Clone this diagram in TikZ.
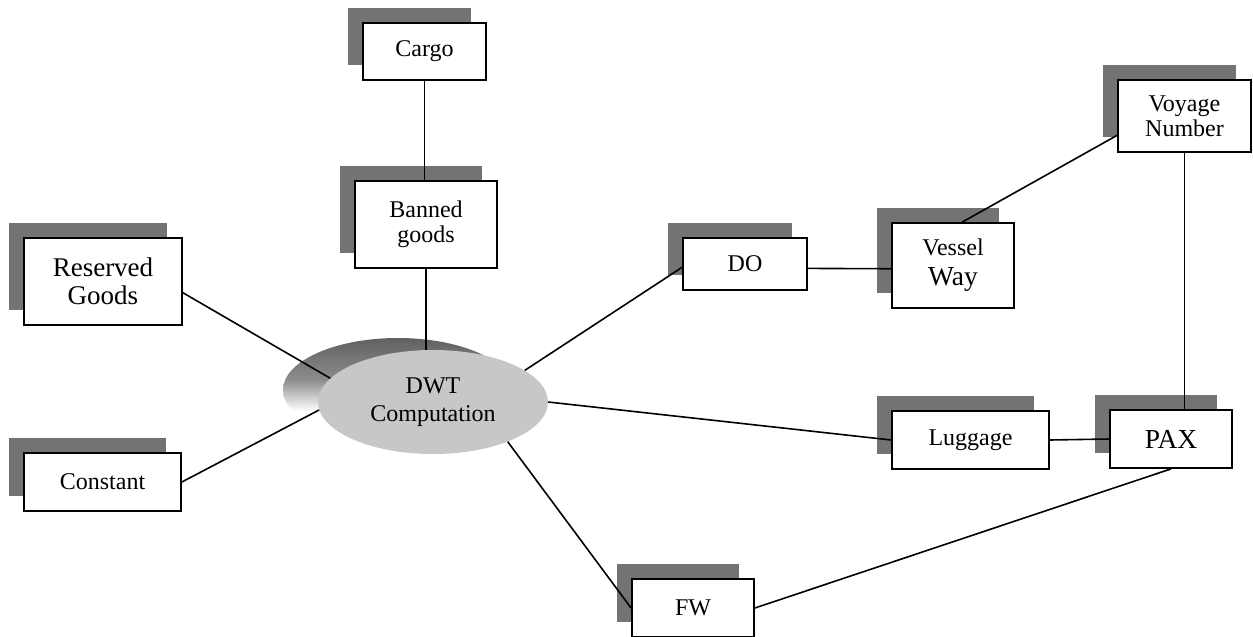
\documentclass[tikz,border=0pt]{standalone}
\usepackage{fontspec}
\setmainfont{Liberation Serif}
\usetikzlibrary{shadows,shapes.geometric}
\pgfdeclareverticalshading{ellshade}{100bp}{color(0bp)=(white); color(40bp)=(white); color(55bp)=(black!45); color(75bp)=(black!62); color(100bp)=(black!62)}
\begin{document}
\begin{tikzpicture}[x=1pt,y=-1pt,
  box/.style={draw, line width=1.8pt, fill=white, inner sep=0pt, align=center,
    font=\fontsize{24}{25}\selectfont,
    general shadow={fill=black!55, draw=none, shadow xshift=-15pt, shadow yshift=15pt}},
  link/.style={line width=1.6pt}]
\useasboundingbox (0,0) rectangle (1253,637);

% ellipse shadow and ellipse
\shade[shading=ellshade] (398,390) ellipse [x radius=115, y radius=52];
\node[ellipse, fill=black!22, minimum width=230pt, minimum height=104pt, inner sep=0pt,
  align=center, font=\fontsize{24}{28}\selectfont] (dwt) at (433,402) {DWT\\Computation};

% boxes
\node[box, minimum width=123pt, minimum height=57pt] (cargo) at (424.5,51.5) {Cargo};
\node[box, minimum width=142pt, minimum height=87pt] (banned) at (426,224.5) {Banned\\goods};
\node[box, minimum width=158pt, minimum height=87pt, font=\fontsize{27}{28}\selectfont] (reserved) at (103,281.5) {Reserved\\Goods};
\node[box, minimum width=157pt, minimum height=58pt] (constant) at (102.5,482) {Constant};
\node[box, minimum width=124pt, minimum height=52pt] (do) at (745,264) {DO};
\node[box, minimum width=122pt, minimum height=85pt] (vessel) at (953,265.5) {Vessel\\[5pt]{\fontsize{27.5}{32}\selectfont Way}};
\node[box, minimum width=133pt, minimum height=72pt] (voyage) at (1184.5,116) {Voyage\\Number};
\node[box, minimum width=157pt, minimum height=58pt] (luggage) at (970.5,440) {Luggage};
\node[box, minimum width=122pt, minimum height=58pt, font=\fontsize{27.5}{30}\selectfont] (pax) at (1171,439) {PAX};
\node[box, minimum width=122pt, minimum height=58pt] (fw) at (693,608) {FW};

% connectors
\draw[link] (cargo.south) -- (cargo.south |- banned.north);
\draw[link] (banned.south) -- (banned.south |- dwt.north);
\draw[link] (reserved.-8) -- (dwt.167);
\draw[link] (constant.east) -- (dwt.184);
\draw[link] (dwt.19) -- (do.183);
\draw[link] (do.-4) -- (vessel.183);
\draw[link] (vessel.78) -- (voyage.196);
\draw[link] (voyage.south) -- (voyage.south |- pax.north);
\draw[link] (dwt.east) -- (luggage.west);
\draw[link] (luggage.east) -- (pax.west);
\draw[link] (dwt.332) -- (fw.west);
\draw[link] (fw.east) -- (pax.south);
\end{tikzpicture}
\end{document}
